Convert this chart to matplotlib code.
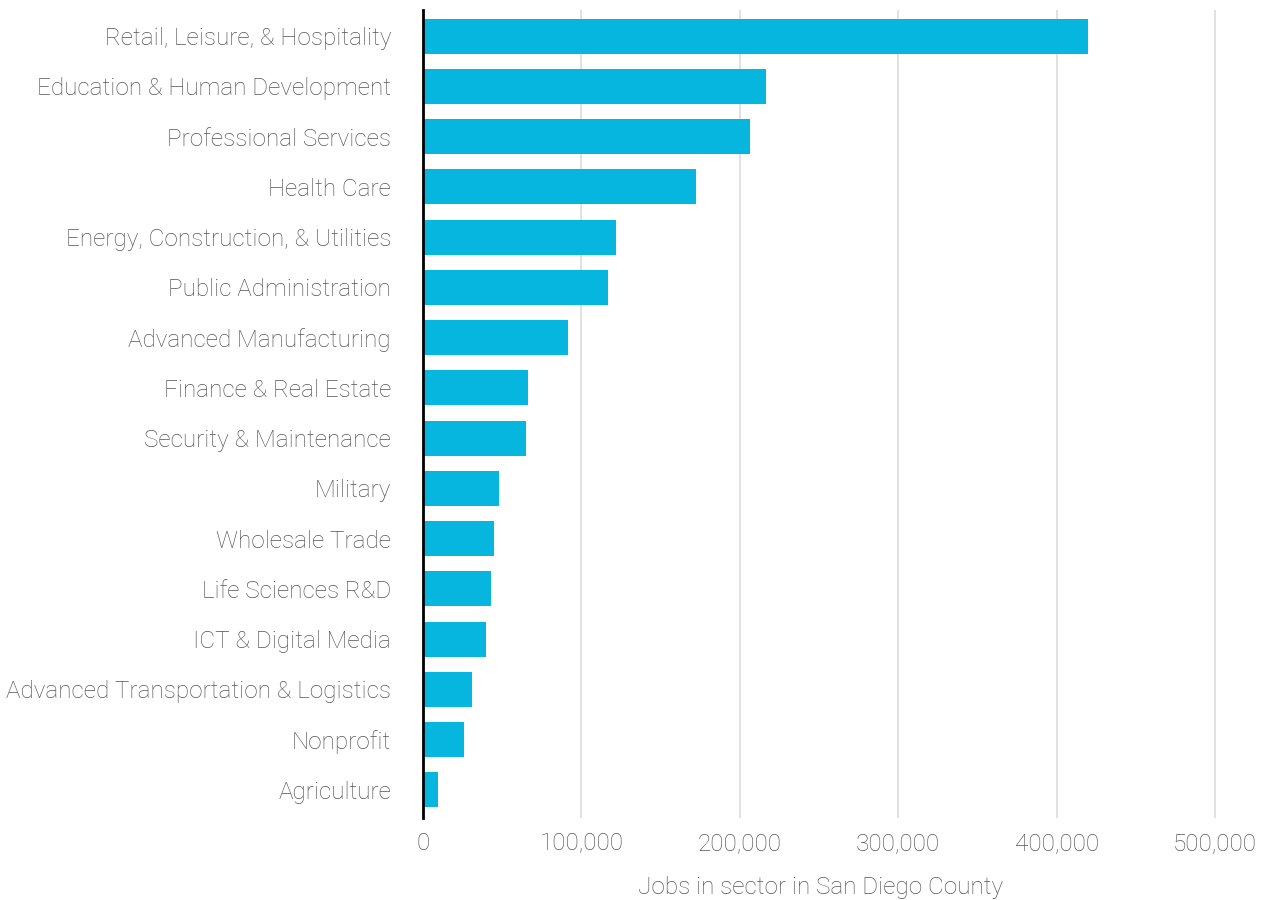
import matplotlib.pyplot as plt
from matplotlib.ticker import FuncFormatter

sectors = [
    "Retail, Leisure, & Hospitality",
    "Education & Human Development",
    "Professional Services",
    "Health Care",
    "Energy, Construction, & Utilities",
    "Public Administration",
    "Advanced Manufacturing",
    "Finance & Real Estate",
    "Security & Maintenance",
    "Military",
    "Wholesale Trade",
    "Life Sciences R&D",
    "ICT & Digital Media",
    "Advanced Transportation & Logistics",
    "Nonprofit",
    "Agriculture",
]
jobs = [420000, 216500, 206400, 172300, 121800, 116800, 91700, 66500,
        65200, 48200, 45000, 43000, 39800, 31000, 26000, 9500]
x_ticks = [0, 100000, 200000, 300000, 400000, 500000]

bar_color = "#06b6df"
text_color = "#555555"

plt.rcParams['font.family'] = ['Roboto', 'DejaVu Sans']

fig = plt.figure(figsize=(12.65, 9), dpi=100)
ax = fig.add_axes([0.3344, 0.0911, 0.6286, 0.8978])

pos = list(range(len(sectors)))
ax.barh(pos, jobs, height=0.7, color=bar_color, zorder=2)

ax.set_ylim(15.56, -0.52)
ax.set_xlim(0, 502000)
ax.set_yticks(pos)
ax.set_yticklabels(sectors)
ax.set_xticks(x_ticks)
ax.xaxis.set_major_formatter(FuncFormatter(lambda v, p: f"{int(v):,}"))

for s in ["top", "right", "bottom"]:
    ax.spines[s].set_visible(False)
ax.spines["left"].set_linewidth(2)
ax.spines["left"].set_color("black")
ax.spines["left"].set_zorder(3)

ax.grid(axis="x", color="#dcdcdc", linewidth=1.2, zorder=0)
ax.tick_params(axis="both", length=0, labelsize=17.5, labelcolor=text_color)
ax.tick_params(axis="y", pad=23)
ax.tick_params(axis="x", pad=10)
for lab in ax.get_xticklabels() + ax.get_yticklabels():
    lab.set_fontweight("light")

ax.set_xlabel("Jobs in sector in San Diego County", fontsize=17.5,
              color=text_color, fontweight="light", labelpad=15)

fig.savefig("out.png", dpi=100)
